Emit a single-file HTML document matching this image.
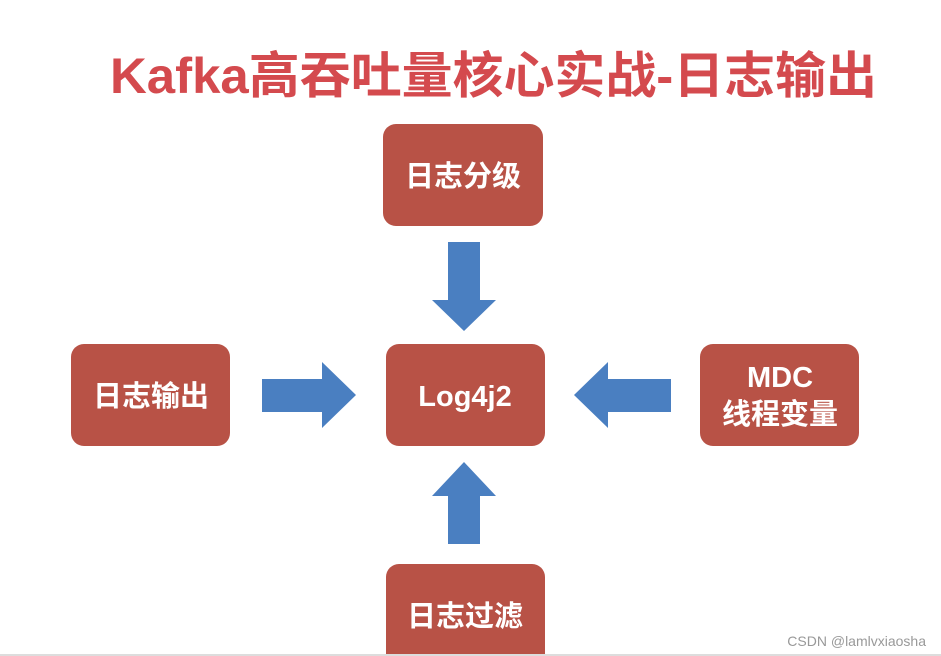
<!DOCTYPE html>
<html><head><meta charset="utf-8"><style>
html,body{margin:0;padding:0;background:#fff;}
</style></head><body>
<svg width="941" height="656" viewBox="0 0 941 656" xmlns="http://www.w3.org/2000/svg" style="display:block">
<rect width="941" height="656" fill="#fff"/>
<text x="110" y="93" font-family="'Liberation Sans','Noto Sans CJK SC',sans-serif" font-weight="bold" font-size="50" fill="#d44a4e" textLength="767" lengthAdjust="spacingAndGlyphs">Kafka高吞吐量核心实战-日志输出</text>
<g fill="#b85246">
<rect x="383" y="124" width="160" height="102" rx="13"/>
<rect x="386" y="344" width="159" height="102" rx="13"/>
<rect x="71" y="344" width="159" height="102" rx="13"/>
<rect x="700" y="344" width="159" height="102" rx="13"/>
<rect x="386" y="564" width="159" height="110" rx="13"/>
</g>
<g fill="#4a7fc1">
<polygon points="448,242 480,242 480,300 496,300 464,331 432,300 448,300"/>
<polygon points="448,544 480,544 480,496 496,496 464,462 432,496 448,496"/>
<polygon points="262,379 322,379 322,362 356,395 322,428 322,412 262,412"/>
<polygon points="671,379 608,379 608,362 574,395 608,428 608,412 671,412"/>
</g>
<g font-family="'Liberation Sans','Noto Sans CJK SC',sans-serif" font-weight="bold" font-size="29" fill="#fff" text-anchor="middle">
<text x="463" y="186">日志分级</text>
<text x="465" y="406">Log4j2</text>
<text x="151" y="406">日志输出</text>
<text x="780" y="387">MDC</text>
<text x="780" y="424">线程变量</text>
<text x="465" y="626">日志过滤</text>
</g>
<text x="926" y="646" text-anchor="end" font-family="'Liberation Sans',sans-serif" font-size="14" fill="#999">CSDN @lamlvxiaosha</text>
<rect x="0" y="654" width="941" height="2" fill="#ddd"/>
</svg>
</body></html>
